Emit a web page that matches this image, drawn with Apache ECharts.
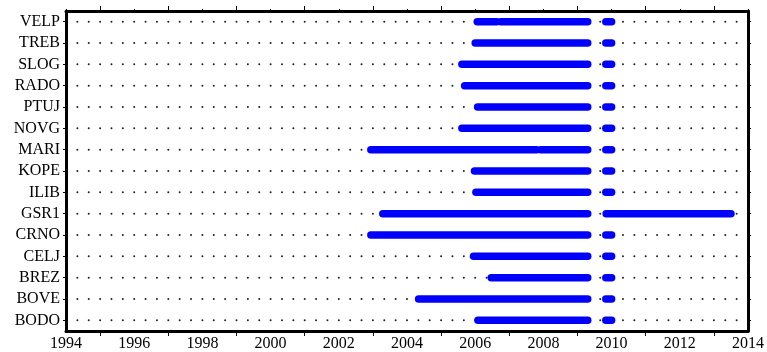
<!DOCTYPE html>
<html>
<head>
<meta charset="utf-8">
<script src="https://cdn.jsdelivr.net/npm/echarts@6/dist/echarts.min.js"></script>
<style>
html,body{margin:0;padding:0;background:#fff;}
#chart{width:767px;height:352px;}
</style>
</head>
<body>
<div id="chart"></div>
<script>
// Stations, bottom to top
const stations = ['BODO','BOVE','BREZ','CELJ','CRNO','GSR1','ILIB','KOPE','MARI','NOVG','PTUJ','RADO','SLOG','TREB','VELP'];

// Data availability periods (decimal years) per station
const BODO = [[2006.08, 2009.30], [2009.83, 2010.00]];
const BOVE = [[2004.34, 2009.30], [2009.83, 2010.00]];
const BREZ = [[2006.47, 2009.30], [2009.83, 2010.00]];
const CELJ = [[2005.95, 2009.30], [2009.83, 2010.00]];
const CRNO = [[2002.94, 2009.30], [2009.83, 2010.00]];
const GSR1 = [[2003.29, 2009.30], [2009.84, 2013.50]];
const ILIB = [[2006.02, 2009.30], [2009.83, 2010.00]];
const KOPE = [[2005.98, 2009.30], [2009.83, 2010.00]];
const MARI = [[2002.94, 2007.80], [2007.92, 2009.30], [2009.83, 2010.00]];
const NOVG = [[2005.61, 2009.30], [2009.83, 2010.00]];
const PTUJ = [[2006.07, 2009.30], [2009.83, 2010.00]];
const RADO = [[2005.69, 2009.30], [2009.83, 2010.00]];
const SLOG = [[2005.61, 2009.30], [2009.83, 2010.00]];
const TREB = [[2006.00, 2009.30], [2009.83, 2010.00]];
const VELP = [[2006.06, 2006.63], [2006.75, 2009.30], [2009.83, 2010.00]];

const periods = {BODO, BOVE, BREZ, CELJ, CRNO, GSR1, ILIB, KOPE, MARI, NOVG, PTUJ, RADO, SLOG, TREB, VELP};

// X axis range and labels
const xMin = 1994, xMax = 2014, xLabelStep = 2;

const segData = [];
stations.forEach((s, i) => {
  periods[s].forEach(p => segData.push([p[0], p[1], i]));
});
const rowData = stations.map((s, i) => [i]);

const FONT = '"Liberation Serif", "Times New Roman", serif';

const chart = echarts.init(document.getElementById('chart'), null, {renderer: 'canvas'});
const axisLine = {show: true, lineStyle: {color: '#000', width: 3}};
chart.setOption({
  animation: false,
  backgroundColor: '#fff',
  grid: {left: 66, right: 19, top: 11, bottom: 20, containLabel: false},
  xAxis: [{
    type: 'value', min: xMin, max: xMax, interval: xLabelStep, position: 'bottom',
    axisLine: axisLine,
    axisTick: {show: true, length: 2, lineStyle: {color: '#000', width: 1}},
    minorTick: {show: true, splitNumber: 2, length: 5, lineStyle: {color: '#000', width: 1}},
    splitLine: {show: false},
    axisLabel: {color: '#000', fontFamily: FONT, fontSize: 16, margin: 5, formatter: v => String(v)}
  }, {
    type: 'value', min: xMin, max: xMax, interval: xLabelStep, position: 'top',
    axisLine: axisLine,
    axisTick: {show: true, length: 2, lineStyle: {color: '#000', width: 1}},
    minorTick: {show: true, splitNumber: 2, length: 5, lineStyle: {color: '#000', width: 1}},
    splitLine: {show: false},
    axisLabel: {show: false}
  }],
  yAxis: [{
    type: 'category', data: stations, position: 'left',
    axisLine: axisLine,
    axisTick: {show: true, alignWithLabel: true, length: 3, lineStyle: {color: '#000', width: 1}},
    axisLabel: {color: '#000', fontFamily: FONT, fontSize: 16, margin: 6},
    splitLine: {show: false}
  }, {
    type: 'category', data: stations, position: 'right',
    axisLine: axisLine,
    axisTick: {show: true, alignWithLabel: true, length: 3, lineStyle: {color: '#000', width: 1}},
    axisLabel: {show: false},
    splitLine: {show: false}
  }],
  series: [{
    type: 'custom',
    silent: true,
    data: rowData,
    renderItem: function (params, api) {
      const i = api.value(0);
      const a = api.coord([xMin + 1/3, i]);
      const b = api.coord([xMax - 1/3, i]);
      const period = api.size([1/3, 0])[0];
      return {
        type: 'line',
        shape: {x1: a[0], y1: a[1], x2: b[0] + 1, y2: b[1]},
        style: {stroke: '#222', lineWidth: 2, lineCap: 'round', lineDash: [0.01, period - 0.01]}
      };
    },
    z: 1
  }, {
    type: 'custom',
    silent: true,
    data: segData,
    renderItem: function (params, api) {
      const a = api.coord([api.value(0), api.value(2)]);
      const b = api.coord([api.value(1), api.value(2)]);
      return {
        type: 'line',
        shape: {x1: a[0], y1: a[1], x2: b[0], y2: b[1]},
        style: {stroke: '#0000ff', lineWidth: 7.5, lineCap: 'round'}
      };
    },
    z: 2
  }]
});
</script>
</body>
</html>
